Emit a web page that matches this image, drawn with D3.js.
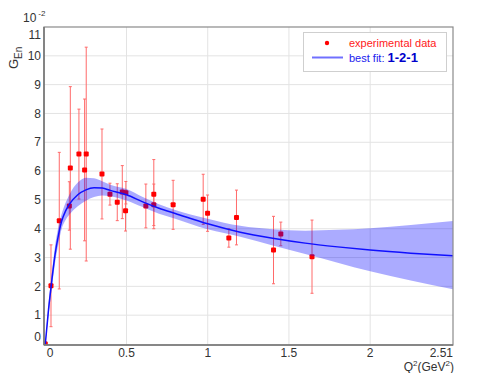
<!DOCTYPE html>
<html lang="en">
<head>
<meta charset="UTF-8">
<title>GEn fit</title>
<style>
  body { margin: 0; background: #fff; }
  svg { display: block; font-family: "Liberation Sans", Arial, sans-serif; }
  .grid line { stroke: #e3e3e3; stroke-width: 1; }
  .tick { font-size: 12px; fill: #333; }
</style>
</head>
<body>
<svg width="498" height="373"></svg>
<script src="https://d3js.org/d3.v7.min.js"></script>
<script>
// experimental points
const q2   = [0.0, 0.035, 0.086, 0.148, 0.154, 0.207, 0.242, 0.252, 0.349, 0.398, 0.443, 0.474, 0.496, 0.494, 0.619, 0.668, 0.668, 0.787, 0.972, 0.999, 1.13, 1.177, 1.405, 1.45, 1.642];
const gEn  = [0.0, 2.02, 4.28, 4.79, 6.11, 6.59, 6.04, 6.59, 5.9, 5.2, 4.92, 5.27, 5.25, 4.62, 4.79, 5.2, 4.83, 4.83, 5.02, 4.54, 3.68, 4.39, 3.26, 3.82, 3.03];
const gErr = [0.08, 1.42, 2.37, 0.84, 2.82, 1.56, 2.46, 3.71, 1.56, 0.38, 0.64, 0.92, 0.39, 0.7, 0.76, 1.2, 0.72, 0.85, 0.87, 0.63, 0.32, 0.95, 1.17, 0.41, 1.27];

// best fit curve and its band
const fitQ2 = [0, 0.02, 0.04, 0.06, 0.08, 0.1, 0.125, 0.15, 0.2, 0.25, 0.3, 0.35, 0.4, 0.5, 0.6, 0.7, 0.8, 1.0, 1.2, 1.4, 1.6, 1.8, 2.0, 2.25, 2.51];
const fitG  = [0, 1.2, 2.2, 3.1, 3.75, 4.25, 4.62, 4.86, 5.18, 5.35, 5.42, 5.41, 5.33, 5.18, 4.93, 4.71, 4.53, 4.17, 3.88, 3.67, 3.5, 3.37, 3.26, 3.15, 3.06];
const fitHi = [0.05, 1.4, 2.45, 3.4, 4.05, 4.5, 4.9, 5.2, 5.6, 5.77, 5.75, 5.65, 5.53, 5.38, 5.1, 4.85, 4.65, 4.35, 4.1, 3.98, 3.93, 3.96, 4.02, 4.13, 4.27];
const fitLo = [-0.05, 1.0, 1.95, 2.8, 3.45, 3.98, 4.3, 4.5, 4.78, 4.97, 5.1, 5.15, 5.13, 4.98, 4.75, 4.52, 4.35, 3.98, 3.72, 3.42, 3.12, 2.82, 2.52, 2.2, 1.9];

const xTicks = [0, 0.5, 1, 1.5, 2, 2.51];
const yTicks = [0, 1, 2, 3, 4, 5, 6, 7, 8, 9, 10, 11];

const svg = d3.select("svg");
const pLeft = 44, pRight = 453, pTop = 27, pBottom = 345;

const x = d3.scaleLinear().domain([-0.008, 2.51]).range([pLeft, pRight]);
const y = d3.scaleLinear().domain([-0.035, 11]).range([pBottom, pTop]);

// grid
const grid = svg.append("g").attr("class", "grid");
grid.selectAll(".gx").data([0.5, 1, 1.5, 2]).enter().append("line")
    .attr("x1", d => x(d)).attr("x2", d => x(d))
    .attr("y1", pTop).attr("y2", pBottom);
grid.selectAll(".gy").data(d3.range(1, 11)).enter().append("line")
    .attr("x1", pLeft).attr("x2", pRight)
    .attr("y1", d => y(d)).attr("y2", d => y(d));

const pts = q2.map((d, i) => ({ x: d, y: gEn[i], e: gErr[i] }));
const fit = fitQ2.map((d, i) => ({ x: d, y: fitG[i], hi: fitHi[i], lo: fitLo[i] }));

const plot = svg.append("g");
plot.append("clipPath").attr("id", "clip").append("rect")
    .attr("x", pLeft).attr("y", pTop).attr("width", pRight - pLeft).attr("height", pBottom - pTop);
const inner = plot.append("g").attr("clip-path", "url(#clip)");

// error bars
const eb = inner.selectAll(".eb").data(pts).enter().append("g")
    .attr("stroke", "#ff6a6a").attr("stroke-width", 1);
eb.append("line")
    .attr("x1", d => x(d.x)).attr("x2", d => x(d.x))
    .attr("y1", d => y(d.y + d.e)).attr("y2", d => y(d.y - d.e));
eb.append("line")
    .attr("x1", d => x(d.x) - 1.5).attr("x2", d => x(d.x) + 1.5)
    .attr("y1", d => y(d.y + d.e)).attr("y2", d => y(d.y + d.e));
eb.append("line")
    .attr("x1", d => x(d.x) - 1.5).attr("x2", d => x(d.x) + 1.5)
    .attr("y1", d => y(d.y - d.e)).attr("y2", d => y(d.y - d.e));

inner.selectAll(".pt").data(pts).enter().append("rect")
    .attr("x", d => x(d.x) - 2.5).attr("y", d => y(d.y) - 2.5)
    .attr("width", 5).attr("height", 5).attr("rx", 1)
    .attr("fill", "#ff0000");

// band
const area = d3.area().curve(d3.curveMonotoneX)
    .x(d => x(d.x)).y0(d => y(d.lo)).y1(d => y(d.hi));
inner.append("path").datum(fit).attr("d", area)
    .attr("fill", "#0000ff").attr("fill-opacity", 0.33);

const line = d3.line().curve(d3.curveMonotoneX).x(d => x(d.x)).y(d => y(d.y));
inner.append("path").datum(fit).attr("d", line)
    .attr("fill", "none").attr("stroke", "#1010ff").attr("stroke-width", 1.5);

// frame
svg.append("rect").attr("x", pLeft).attr("y", pTop)
    .attr("width", pRight - pLeft).attr("height", pBottom - pTop)
    .attr("fill", "none").attr("stroke", "#8a8a8a").attr("stroke-width", 1.2);
svg.append("line").attr("x1", pLeft).attr("x2", pLeft).attr("y1", pTop).attr("y2", pBottom)
    .attr("stroke", "#777").attr("stroke-width", 1.6);
svg.append("line").attr("x1", pLeft).attr("x2", pRight).attr("y1", pBottom).attr("y2", pBottom)
    .attr("stroke", "#777").attr("stroke-width", 1.6);

// tick labels
svg.selectAll(".ytl").data(yTicks).enter().append("text")
    .attr("class", "tick")
    .attr("x", pLeft - 3)
    .attr("y", d => Math.max(pTop + 8, Math.min(pBottom - 8, y(d))))
    .attr("dy", "0.35em")
    .attr("text-anchor", "end")
    .text(d => d);

svg.selectAll(".xtl").data(xTicks).enter().append("text")
    .attr("class", "tick")
    .attr("x", (d, i) => i === 0 ? x(d) + 1.5 : i === xTicks.length - 1 ? pRight : x(d))
    .attr("y", 357)
    .attr("text-anchor", (d, i) => i === 0 ? "start" : i === xTicks.length - 1 ? "end" : "middle")
    .text(d => d);

// axis titles
const xt = svg.append("text").attr("class", "tick").attr("x", pRight + 1).attr("y", 371)
    .attr("text-anchor", "end");
xt.append("tspan").text("Q");
xt.append("tspan").attr("dy", -5).attr("font-size", 8).text("2");
xt.append("tspan").attr("dy", 5).text("(GeV");
xt.append("tspan").attr("dy", -5).attr("font-size", 8).text("2");
xt.append("tspan").attr("dy", 5).text(")");

const yt = svg.append("text").attr("class", "tick").attr("font-size", 13)
    .attr("transform", "translate(18,69) rotate(-90)");
yt.append("tspan").attr("font-size", 13).text("G");
yt.append("tspan").attr("dy", 4).attr("font-size", 10).text("En");

const sc = svg.append("text").attr("class", "tick").attr("x", 23).attr("y", 22);
sc.append("tspan").text("10");
sc.append("tspan").attr("dx", 2).attr("dy", -6).attr("font-size", 8).text("-2");

// legend
const lg = svg.append("g");
lg.append("rect").attr("x", 303.5).attr("y", 32.5).attr("width", 143).attr("height", 39)
    .attr("fill", "#fff").attr("stroke", "#cfcfcf");
lg.append("circle").attr("cx", 327).attr("cy", 43).attr("r", 2.2).attr("fill", "#ff0000");
lg.append("text").attr("x", 349).attr("y", 47).attr("font-size", 11).attr("fill", "#ff2020")
    .text("experimental data");
lg.append("line").attr("x1", 312).attr("x2", 343).attr("y1", 57.5).attr("y2", 57.5)
    .attr("stroke", "#7070ff").attr("stroke-width", 2);
const bf = lg.append("text").attr("x", 349).attr("y", 62).attr("font-size", 11).attr("fill", "#2020ee");
bf.append("tspan").text("best fit: ");
bf.append("tspan").attr("font-weight", "bold").attr("font-size", 13).attr("fill", "#0000cc").text("1-2-1");
</script>
</body>
</html>
